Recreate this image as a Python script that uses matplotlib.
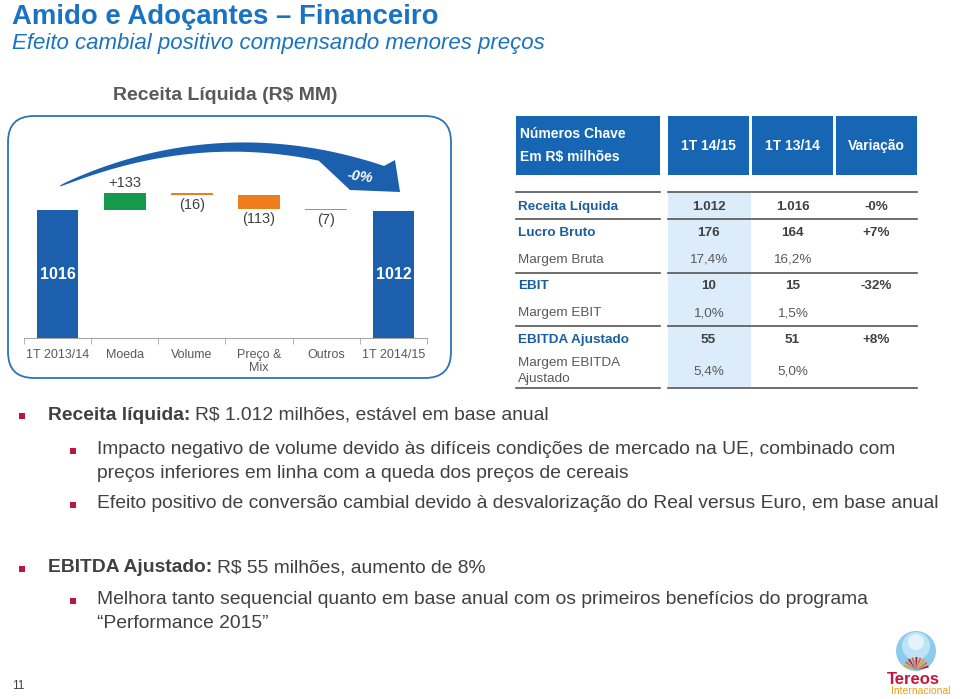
import numpy as np
import matplotlib.pyplot as plt
from matplotlib.patches import FancyBboxPatch, Rectangle, Polygon, Circle, Wedge

plt.rcParams['font.family'] = ['Liberation Sans', 'DejaVu Sans']

# -------------------------------
# Data
# -------------------------------
categories = ['1T 2013/14', 'Moeda', 'Volume', 'Preço &\nMix', 'Outros', '1T 2014/15']
changes = [1016, 133, -16, -113, -7, 1012]
change_labels = ['1016', '+133', '(16)', '(113)', '(7)', '1012']

table_cols = ['1T 14/15', '1T 13/14', 'Variação']
row_names = ['Receita Líquida', 'Lucro Bruto', 'Margem Bruta', 'EBIT', 'Margem EBIT',
             'EBITDA Ajustado', 'Margem EBITDA\nAjustado']
row_bold = [True, True, False, True, False, True, False]
col_1415 = ['1.012', '176', '17,4%', '10', '1,0%', '55', '5,4%']
col_1314 = ['1.016', '164', '16,2%', '15', '1,5%', '51', '5,0%']
col_var = ['-0%', '+7%', '', '-32%', '', '+8%', '']

BLUE = '#1b5fad'
TITLE_BLUE = '#1a73c0'
GRAY = '#404040'
RED = '#c0143c'
FS = 13.9  # bullet text size

fig = plt.figure(figsize=(9.6, 6.99), dpi=100)

# overlay axes in pixel coordinates
ov = fig.add_axes([0, 0, 1, 1], zorder=2)
ov.set_xlim(0, 960)
ov.set_ylim(699, 0)
ov.axis('off')
ov.patch.set_alpha(0)

# -------------------------------
# Titles
# -------------------------------
ov.text(12, 24, 'Amido e Adoçantes – Financeiro', fontsize=19.8, fontweight='bold',
        color=TITLE_BLUE, va='baseline', ha='left')
ov.text(12, 49, 'Efeito cambial positivo compensando menores preços', fontsize=16,
        style='italic', color=TITLE_BLUE, va='baseline', ha='left')
ov.text(225, 95, 'Receita Líquida (R$ MM)', fontsize=14, fontweight='bold',
        color='#595959', va='center', ha='center')

# rounded box around waterfall
box = FancyBboxPatch((8, 116), 443, 262, boxstyle='round,pad=0,rounding_size=26',
                     fill=False, ec='#2a74b8', lw=1.3)
ov.add_patch(box)

# -------------------------------
# Waterfall
# -------------------------------
px_per_unit = 128 / 1016
y_axis_px = 338
y_top_px = 112
wf = fig.add_axes([24 / 960, 1 - y_axis_px / 699, (427 - 24) / 960,
                   (y_axis_px - y_top_px) / 699], zorder=1)
wf.patch.set_alpha(0)
wf.set_xlim(-0.5, len(categories) - 0.5)
wf.set_ylim(0, (y_axis_px - y_top_px) / px_per_unit)

running = 0
for i, c in enumerate(changes):
    if i == 0 or i == len(changes) - 1:
        running = c
        wf.bar(i, c, bottom=0, width=0.62, color=BLUE, zorder=2)
        wf.text(i, c / 2, change_labels[i], ha='center', va='center', color='white',
                fontsize=11.5, fontweight='bold')
    else:
        bottom = running if c > 0 else running + c
        col = '#16994a' if c > 0 else '#ee7d1d'
        wf.bar(i, abs(c), bottom=bottom, width=0.62, color=col, zorder=2)
        if c > 0:
            wf.text(i, running + c + 22, change_labels[i], ha='center', va='bottom',
                    color=GRAY, fontsize=10.5)
        else:
            wf.text(i, running + c - 22, change_labels[i], ha='center', va='top',
                    color=GRAY, fontsize=10.5)
        running += c

wf.set_xticks(range(len(categories)))
wf.set_xticklabels(categories, fontsize=9, color='#595959', linespacing=1.1)
wf.set_xticks(np.arange(-0.5, len(categories)), minor=True)
wf.tick_params(axis='x', which='major', length=0, pad=8)
wf.tick_params(axis='x', which='minor', length=4, color='#a6a6a6')
wf.set_yticks([])
for s in ['top', 'right', 'left']:
    wf.spines[s].set_visible(False)
wf.spines['bottom'].set_color('#a6a6a6')

# curved arrow (decoration, pixel coords)
t = np.linspace(0, 1, 100)
p0, p1, p2 = np.array([60, 186]), np.array([220, 116]), np.array([382, 172])
center = ((1 - t) ** 2)[:, None] * p0 + (2 * (1 - t) * t)[:, None] * p1 + (t ** 2)[:, None] * p2
tang = 2 * (1 - t)[:, None] * (p1 - p0) + 2 * t[:, None] * (p2 - p1)
norm = np.stack([tang[:, 1], -tang[:, 0]], axis=1)
norm /= np.linalg.norm(norm, axis=1)[:, None]
w = 0.4 + 6.0 * t ** 0.6
upper = center + norm * w[:, None]
lower = center - norm * w[:, None]
keep_low = lower[:, 0] < 322
arrow_pts = np.vstack([upper, [[395, 160], [400, 192], [350, 190]], lower[keep_low][::-1]])
ov.add_patch(Polygon(arrow_pts, closed=True, fc='#1b5fad', ec='none', zorder=3))
ov.text(360, 177, '-0%', color='white', fontsize=10.5, fontweight='bold', style='italic',
        ha='center', va='center', rotation=-8, zorder=4)

# -------------------------------
# Table
# -------------------------------
HEAD = '#1766b4'
ov.add_patch(Rectangle((516, 116), 144, 59, fc=HEAD, ec='none'))
ov.text(520, 134, 'Números Chave', color='white', fontsize=10, fontweight='bold', va='center')
ov.text(520, 157, 'Em R$ milhões', color='white', fontsize=10, fontweight='bold', va='center')
col_x = [668, 752, 836]
col_w = 81
for x, name in zip(col_x, table_cols):
    ov.add_patch(Rectangle((x, 116), col_w, 59, fc=HEAD, ec='none'))
    ov.text(x + col_w / 2, 146, name, color='white', fontsize=10, fontweight='bold',
            ha='center', va='center')

# highlight column
ov.add_patch(Rectangle((668, 193), 83, 194, fc='#dcecfa', ec='none'))

row_y = [207, 233, 260, 286, 313, 340, 371]
for y in [192, 219, 273, 326, 388]:
    ov.plot([516, 660], [y, y], color='#555555', lw=1.2)
    ov.plot([668, 917], [y, y], color='#555555', lw=1.2)

for i, name in enumerate(row_names):
    b = row_bold[i]
    lab_col = '#1c5d9e' if b else '#595959'
    fw = 'bold' if b else 'normal'
    ly = row_y[i] if '\n' not in name else row_y[i]
    ov.text(518, ly, name, color=lab_col, fontsize=9.7, fontweight=fw, va='center',
            ha='left', linespacing=1.35)
    for x, vals in zip(col_x, [col_1415, col_1314, col_var]):
        ov.text(x + col_w / 2, row_y[i], vals[i], color=GRAY if b else '#595959',
                fontsize=9.7, fontweight=fw, ha='center', va='center')

# -------------------------------
# Bullets
# -------------------------------
renderer = fig.canvas.get_renderer()


def bullet(x, y, size=5.5):
    ov.add_patch(Rectangle((x - size / 2, y - size / 2), size, size, fc=RED, ec='none'))


def rich_line(x, y, bold_part, rest, fs=FS):
    tb = ov.text(x, y, bold_part, fontsize=fs, color=GRAY, va='center', fontweight='bold')
    bb = tb.get_window_extent(renderer=renderer)
    x_end = ov.transData.inverted().transform((bb.x1, bb.y0))[0]
    ov.text(x_end + 5, y, rest, fontsize=fs, color=GRAY, va='center')


bullet(22, 416)
rich_line(48, 415, 'Receita líquida:', 'R$ 1.012 milhões, estável em base anual')

bullet(73, 451)
ov.text(97, 450, 'Impacto negativo de volume devido às difíceis condições de mercado na UE, combinado com',
        fontsize=FS, color=GRAY, va='center')
ov.text(97, 473, 'preços inferiores em linha com a queda dos preços de cereais',
        fontsize=FS, color=GRAY, va='center')
bullet(73, 505)
ov.text(97, 504, 'Efeito positivo de conversão cambial devido à desvalorização do Real versus Euro, em base anual',
        fontsize=FS, color=GRAY, va='center')

bullet(22, 569)
rich_line(48, 568, 'EBITDA Ajustado:', 'R$ 55 milhões, aumento de 8%')
bullet(73, 601)
ov.text(97, 600, 'Melhora tanto sequencial quanto em base anual com os primeiros benefícios do programa',
        fontsize=FS, color=GRAY, va='center')
ov.text(97, 623, '“Performance 2015”', fontsize=FS, color=GRAY, va='center')

ov.text(12, 686, '11', fontsize=8.5, color=GRAY, va='center')

# -------------------------------
# Logo
# -------------------------------
ov.add_patch(Circle((916, 651), 20, fc='#8ccbed', ec='none'))
ov.add_patch(Circle((916, 646), 14, fc='#bfe3f6', ec='none'))
ov.add_patch(Circle((916, 642), 8, fc='#e4f3fb', ec='none'))
petal_cols = ['#e8a020', '#e46a1c', '#c8143c', '#e46a1c', '#c8143c',
              '#e46a1c', '#e8a020', '#e46a1c', '#c8143c']
for ang, colr in zip(range(200, 345, 18), petal_cols):
    ov.add_patch(Wedge((916, 670), 13, ang - 5, ang + 5, fc=colr, ec='none'))
ov.text(913, 679, 'Tereos', fontsize=12, color='#c8143c', fontweight='bold', ha='center',
        va='center')
ov.text(921, 691, 'Internacional', fontsize=7.5, color='#e8a020', ha='center', va='center')

fig.savefig('out.png', dpi=100)
